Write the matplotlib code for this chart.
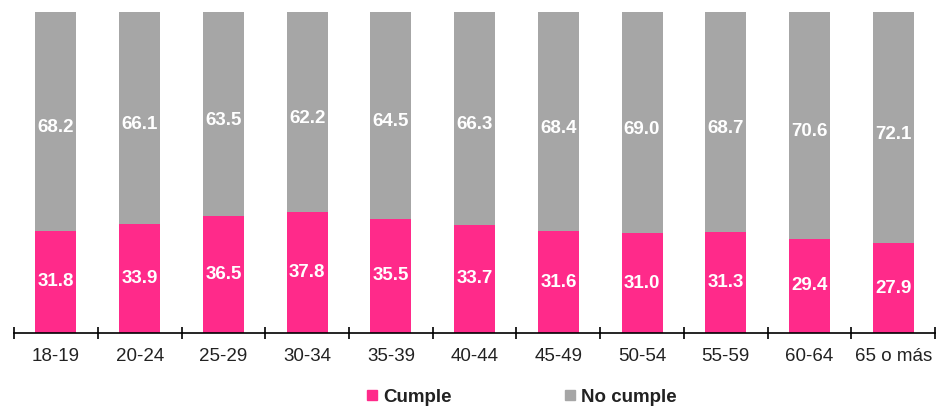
import matplotlib.pyplot as plt
import numpy as np
from matplotlib.lines import Line2D

CATEGORIES = ["18-19", "20-24", "25-29", "30-34", "35-39", "40-44",
              "45-49", "50-54", "55-59", "60-64", "65 o más"]
CUMPLE = [31.8, 33.9, 36.5, 37.8, 35.5, 33.7, 31.6, 31.0, 31.3, 29.4, 27.9]
NO_CUMPLE = [68.2, 66.1, 63.5, 62.2, 64.5, 66.3, 68.4, 69.0, 68.7, 70.6, 72.1]

PINK = "#FF2A8A"
GREY = "#A6A6A6"

plt.rcParams["font.family"] = ["Liberation Sans", "DejaVu Sans"]

fig = plt.figure(figsize=(9.37, 4.08), dpi=100)
ax = fig.add_axes([0.015, 0.184, 0.983, 0.787])

x = np.arange(len(CATEGORIES))
width = 0.49
bars_c = ax.bar(x, CUMPLE, width, color=PINK, label="Cumple")
bars_n = ax.bar(x, NO_CUMPLE, width, bottom=CUMPLE, color=GREY, label="No cumple")

for bar, v in zip(bars_c, CUMPLE):
    ax.text(bar.get_x() + bar.get_width() / 2, v / 2, f"{v:.1f}",
            ha="center", va="center", color="white", fontsize=13.5, weight="bold")
for bar, b, v in zip(bars_n, CUMPLE, NO_CUMPLE):
    ax.text(bar.get_x() + bar.get_width() / 2, b + v / 2 - 2, f"{v:.1f}",
            ha="center", va="center", color="white", fontsize=13.5, weight="bold")

ax.set_xlim(-0.5, len(CATEGORIES) - 0.5)
ax.set_ylim(0, 100)
for side in ["left", "right", "top"]:
    ax.spines[side].set_visible(False)
ax.spines["bottom"].set_linewidth(1.2)
ax.set_yticks([])
ax.set_xticks(x)
ax.set_xticklabels(CATEGORIES, fontsize=13.5, color="#222222")
ax.tick_params(axis="x", which="major", length=0, pad=11)
ax.set_xticks(np.arange(len(CATEGORIES) + 1) - 0.5, minor=True)
ax.tick_params(axis="x", which="minor", direction="inout", length=9, width=1.2)

handles = [
    Line2D([], [], marker="s", linestyle="none", markersize=7, color=PINK),
    Line2D([], [], marker="s", linestyle="none", markersize=7, color=GREY),
]
leg = fig.legend(handles, ["Cumple", "No cumple"], loc="center",
                 bbox_to_anchor=(0.555, 0.027), ncol=2, frameon=False,
                 handletextpad=0.1, columnspacing=5.8, handlelength=1.0,
                 prop={"weight": "bold", "size": 13.5})
for t in leg.get_texts():
    t.set_color("#222222")

fig.savefig("out.png", dpi=100)
